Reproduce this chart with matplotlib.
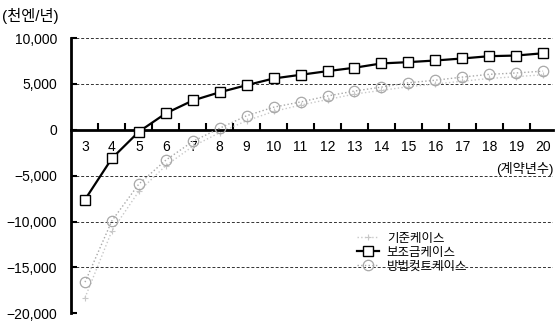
import numpy as np
import matplotlib
matplotlib.use("Agg")
import matplotlib.pyplot as plt
from matplotlib.ticker import FuncFormatter

plt.rcParams['font.family'] = ['Liberation Sans', 'Noto Sans CJK KR', 'DejaVu Sans']
plt.rcParams['axes.unicode_minus'] = True

years = list(range(3, 21))
# 기준케이스 (faint, hard to read)
base_case = [-18300, -11000, -6700, -3900, -1800, -300, 1000, 2000, 2700,
             3300, 3900, 4300, 4700, 5000, 5300, 5600, 5800, 6000]
# 보조금케이스
subsidy_case = [-7600, -3100, -200, 1800, 3200, 4100, 4870, 5600, 6000,
                6400, 6770, 7240, 7380, 7560, 7780, 8030, 8100, 8350]
# 방법컷트케이스
cut_case = [-16600, -9900, -5900, -3300, -1260, 180, 1540, 2470, 3040,
            3690, 4230, 4660, 5130, 5410, 5750, 6050, 6200, 6400]
yticks = [10000, 5000, 0, -5000, -10000, -15000, -20000]

fig = plt.figure(figsize=(5.56, 3.23), dpi=100)
ax = fig.add_axes([0.1277, 0.03, 0.867, 0.852])

ax.set_xlim(2.48, 20.37)
ax.set_ylim(-20000, 10000)

# grid lines (not at 0)
for v in yticks:
    if v != 0:
        ax.axhline(v, color='#333333', lw=0.7, ls=(0, (3, 2)), zorder=1)

ax.plot(years, base_case, color='#c8c8c8', lw=1.0, ls=':', marker='+',
        markersize=5, markeredgewidth=0.8, label='기준케이스', zorder=2)
ax.plot(years, subsidy_case, color='black', lw=1.6, marker='s', markersize=6.5,
        markerfacecolor='white', markeredgecolor='black', markeredgewidth=1.0,
        label='보조금케이스', zorder=4)
ax.plot(years, cut_case, color='#a8a8a8', lw=1.0, ls=':', marker='o',
        markersize=7.5, markerfacecolor='none', markeredgecolor='#a8a8a8',
        markeredgewidth=0.9, label='방법컷트케이스', zorder=3)

for s in ['top', 'right']:
    ax.spines[s].set_visible(False)
ax.spines['bottom'].set_position(('data', 0))
ax.spines['bottom'].set_linewidth(2)
ax.spines['left'].set_linewidth(2)

ax.set_yticks(yticks)
ax.yaxis.set_major_formatter(FuncFormatter(
    lambda v, p: ('\u2212' if v < 0 else '') + f'{abs(int(v)):,}'))
ax.tick_params(axis='y', direction='in', length=4, width=1.5, labelsize=10,
               pad=10, colors='black')

ax.set_xticks(years)
ax.set_xticklabels([str(y) for y in years])
ax.set_xticks(np.arange(3.5, 20.5, 1), minor=True)
ax.tick_params(axis='x', which='major', length=0, labelsize=10, pad=7)
ax.tick_params(axis='x', which='minor', direction='in', length=5, width=1.5)

fig.text(0.004, 0.952, '(천엔/년)', fontsize=11, ha='left', va='center')
ax.text(20.37, -4300, '(계약년수)', fontsize=9.5, ha='right', va='center')

leg = ax.legend(loc='upper left', bbox_to_anchor=(0.58, 0.315), frameon=False,
                fontsize=9, handlelength=1.8, handletextpad=0.6,
                labelspacing=0.15, borderpad=0)

fig.savefig('out.png', dpi=100)
